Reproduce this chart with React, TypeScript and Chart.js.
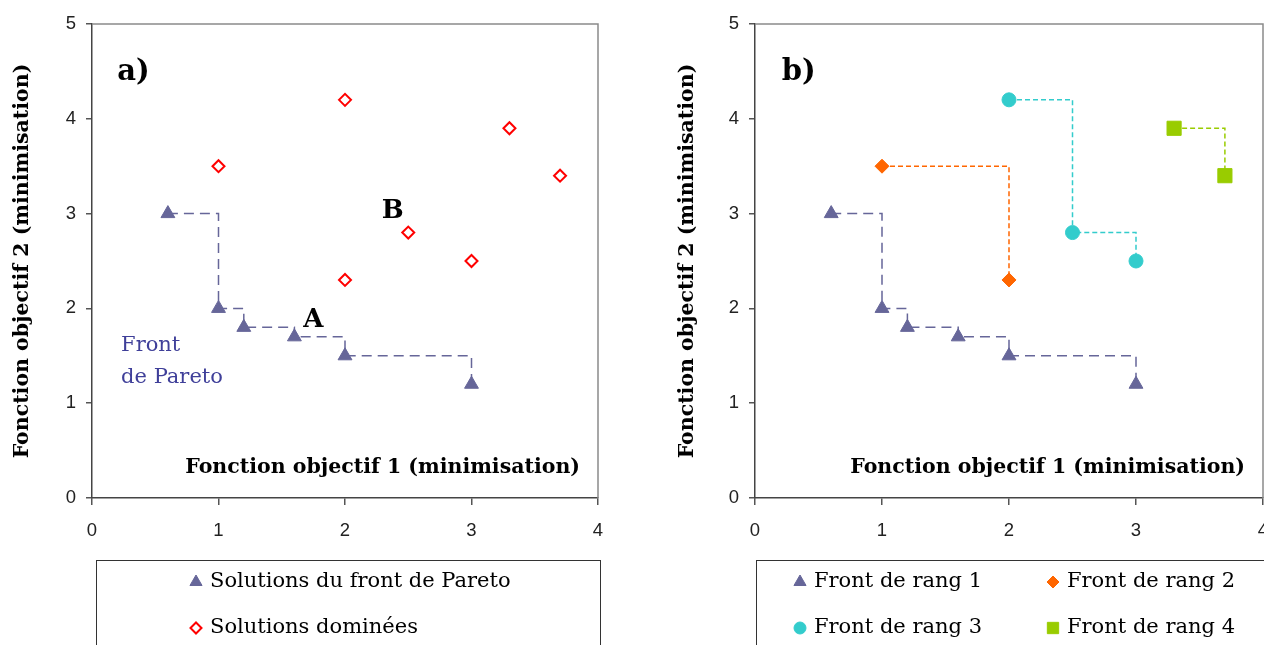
import React, { useEffect, useRef } from 'react';
import { Chart, registerables } from 'chart.js';
import { drawPoint } from 'chart.js/helpers';

Chart.register(...registerables);

// ---------- data ----------
const xTickValues = [0, 1, 2, 3, 4];
const yTickValues = [0, 1, 2, 3, 4, 5];

const paretoX = [0.6, 1, 1.2, 1.6, 2, 3];
const paretoY = [3, 2, 1.8, 1.7, 1.5, 1.2];

const dominatedX = [1, 2, 2.5, 2, 3.3, 3, 3.7];
const dominatedY = [3.5, 4.2, 2.8, 2.3, 3.9, 2.5, 3.4];

const rank2X = [1, 2];
const rank2Y = [3.5, 2.3];
const rank3X = [2, 2.5, 3];
const rank3Y = [4.2, 2.8, 2.5];
const rank4X = [3.3, 3.7];
const rank4Y = [3.9, 3.4];

const xTitleText = 'Fonction objectif 1 (minimisation)';
const yTitleText = 'Fonction objectif 2 (minimisation)';

// ---------- styles ----------
const SERIF = '"DejaVu Serif", "Liberation Serif", serif';
const SANS = '"Liberation Sans", Arial, sans-serif';
const TITLE_SIZE = 20.5;
const LEGEND_FONT = `21px ${SERIF}`;
const SLATE = '#666699';
const RED = '#ff0000';
const ORANGE = '#ff6600';
const CYAN = '#33cccc';
const GREEN = '#99cc00';

const pts = (xs: number[], ys: number[]) => xs.map((x, i) => ({ x, y: ys[i] }));

type TextItem = { text: string; x: number; y: number; font: string; color: string };
type LegendItem = { ds: number; x: number; y: number; r: number };
type DecorCfg = {
  key: string;
  texts: TextItem[];
  legendBox: { left: number; top: number; right: number; bottom: number };
  legend: LegendItem[];
};

function makeDecor(cfg: DecorCfg) {
  return {
    id: 'decor' + cfg.key,
    beforeDatasetsDraw(chart: any) {
      const { ctx, chartArea: a } = chart;
      ctx.save();
      ctx.strokeStyle = '#8a8a8a';
      ctx.lineWidth = 1.5;
      ctx.beginPath();
      ctx.moveTo(a.left, a.top);
      ctx.lineTo(a.right, a.top);
      ctx.lineTo(a.right, a.bottom);
      ctx.stroke();
      ctx.restore();
    },
    afterDraw(chart: any) {
      const { ctx, chartArea: a, scales } = chart;
      ctx.save();
      ctx.textBaseline = 'middle';
      ctx.textAlign = 'left';
      for (const t of cfg.texts) {
        ctx.font = t.font;
        ctx.fillStyle = t.color;
        ctx.fillText(t.text, scales.x.getPixelForValue(t.x), scales.y.getPixelForValue(t.y));
      }
      // x-axis title inside the plot, bottom right
      ctx.font = `bold ${TITLE_SIZE}px ${SERIF}`;
      ctx.fillStyle = '#000';
      ctx.textAlign = 'right';
      ctx.fillText(xTitleText, a.right - 18, a.bottom - 30);

      // legend box
      const b = cfg.legendBox;
      ctx.strokeStyle = '#333';
      ctx.lineWidth = 1;
      ctx.strokeRect(b.left + 0.5, b.top + 0.5, b.right - b.left, b.bottom - b.top);
      ctx.textAlign = 'left';
      ctx.font = LEGEND_FONT;
      for (const it of cfg.legend) {
        const ds = chart.data.datasets[it.ds];
        ctx.fillStyle = ds.pointBackgroundColor;
        ctx.strokeStyle = ds.pointBorderColor;
        ctx.lineWidth = ds.pointBorderWidth ?? 1;
        ctx.setLineDash([]);
        drawPoint(ctx, { pointStyle: ds.pointStyle, rotation: 0, radius: it.r, borderWidth: ds.pointBorderWidth ?? 1 }, it.x, it.y);
        ctx.fillStyle = '#000';
        ctx.fillText(ds.label, it.x + 14, it.y);
      }
      ctx.restore();
    },
  };
}

function makeScales(yWidth: number, yTitlePad: number) {
  return {
    x: {
      type: 'linear',
      min: 0,
      max: 4,
      afterBuildTicks: (s: any) => {
        s.ticks = xTickValues.map((v) => ({ value: v }));
      },
      afterFit: (s: any) => {
        s.height = 60;
      },
      grid: { drawOnChartArea: false, drawTicks: true, tickLength: 7, color: '#555', lineWidth: 1.5 },
      border: { display: true, color: '#444', width: 1.5 },
      ticks: { font: { family: SANS, size: 18.5 }, color: '#222', padding: 15, maxRotation: 0, autoSkip: false },
    },
    y: {
      type: 'linear',
      min: 0,
      max: 5,
      afterBuildTicks: (s: any) => {
        s.ticks = yTickValues.map((v) => ({ value: v }));
      },
      afterFit: (s: any) => {
        s.width = yWidth;
      },
      grid: { drawOnChartArea: false, drawTicks: true, tickLength: 6, color: '#555', lineWidth: 1.5 },
      border: { display: true, color: '#444', width: 1.5 },
      ticks: { font: { family: SANS, size: 18.5 }, color: '#222', padding: 10, autoSkip: false },
      title: {
        display: true,
        text: yTitleText,
        font: { family: SERIF, size: TITLE_SIZE, weight: 'bold' },
        color: '#000',
        padding: { top: yTitlePad, bottom: 0 },
      },
    },
  };
}

const paretoDataset = (label: string) => ({
  label,
  data: pts(paretoX, paretoY),
  showLine: true,
  stepped: 'before',
  borderDash: [10, 6],
  borderColor: SLATE,
  backgroundColor: SLATE,
  borderWidth: 1.5,
  pointStyle: 'triangle',
  pointRadius: 8,
  pointBorderWidth: 1,
  pointBackgroundColor: SLATE,
  pointBorderColor: SLATE,
});

const rankDataset = (label: string, xs: number[], ys: number[], color: string, style: string, r: number) => ({
  label,
  data: pts(xs, ys),
  showLine: true,
  stepped: 'before',
  borderDash: [5, 3],
  borderColor: color,
  backgroundColor: color,
  borderWidth: 1.5,
  pointStyle: style,
  pointRadius: r,
  pointBorderWidth: 1,
  pointBackgroundColor: color,
  pointBorderColor: color,
});

export default function App() {
  const leftRef = useRef<HTMLCanvasElement>(null);
  const rightRef = useRef<HTMLCanvasElement>(null);

  useEffect(() => {
    const boldSerif = (n: number) => `bold ${n}px ${SERIF}`;
    const left = new Chart(leftRef.current as HTMLCanvasElement, {
      type: 'scatter',
      data: {
        datasets: [
          paretoDataset('Solutions du front de Pareto'),
          {
            label: 'Solutions dominées',
            data: pts(dominatedX, dominatedY),
            showLine: false,
            borderColor: RED,
            backgroundColor: '#ffffff',
            pointStyle: 'rectRot',
            pointRadius: 6,
            pointBorderWidth: 2,
            pointBackgroundColor: '#ffffff',
            pointBorderColor: RED,
          },
        ],
      } as any,
      options: {
        responsive: false,
        animation: false,
        layout: { padding: { left: 0, top: 24, right: 42, bottom: 162 } },
        plugins: { legend: { display: false }, tooltip: { enabled: false } },
        scales: makeScales(92, 10) as any,
      },
      plugins: [
        makeDecor({
          key: 'L',
          texts: [
            { text: 'a)', x: 0.2, y: 4.49, font: boldSerif(29), color: '#000' },
            { text: 'A', x: 1.67, y: 1.88, font: boldSerif(26), color: '#000' },
            { text: 'B', x: 2.29, y: 3.02, font: boldSerif(26), color: '#000' },
            { text: 'Front', x: 0.23, y: 1.61, font: `21px ${SERIF}`, color: '#3f3f99' },
            { text: 'de Pareto', x: 0.23, y: 1.27, font: `21px ${SERIF}`, color: '#3f3f99' },
          ],
          legendBox: { left: 96, top: 560, right: 600, bottom: 760 },
          legend: [
            { ds: 0, x: 196, y: 582, r: 7 },
            { ds: 1, x: 196, y: 628, r: 5.5 },
          ],
        }),
      ],
    } as any);

    const right = new Chart(rightRef.current as HTMLCanvasElement, {
      type: 'scatter',
      data: {
        datasets: [
          paretoDataset('Front de rang 1'),
          rankDataset('Front de rang 2', rank2X, rank2Y, ORANGE, 'rectRot', 7),
          rankDataset('Front de rang 3', rank3X, rank3Y, CYAN, 'circle', 7),
          rankDataset('Front de rang 4', rank4X, rank4Y, GREEN, 'rect', 10),
        ],
      } as any,
      options: {
        responsive: false,
        animation: false,
        layout: { padding: { left: 0, top: 24, right: 49, bottom: 162 } },
        plugins: { legend: { display: false }, tooltip: { enabled: false } },
        scales: makeScales(123, 43) as any,
      },
      plugins: [
        makeDecor({
          key: 'R',
          texts: [{ text: 'b)', x: 0.21, y: 4.49, font: boldSerif(29), color: '#000' }],
          legendBox: { left: 124, top: 560, right: 700, bottom: 760 },
          legend: [
            { ds: 0, x: 168, y: 582, r: 7 },
            { ds: 1, x: 421, y: 582, r: 6 },
            { ds: 2, x: 168, y: 628, r: 6 },
            { ds: 3, x: 421, y: 628, r: 8 },
          ],
        }),
      ],
    } as any);

    return () => {
      left.destroy();
      right.destroy();
    };
  }, []);

  return (
    <div
      style={{
        position: 'absolute',
        left: 0,
        top: 0,
        width: 1264,
        height: 645,
        overflow: 'hidden',
        background: '#ffffff',
      }}
    >
      <canvas ref={leftRef} width={640} height={720} style={{ position: 'absolute', left: 0, top: 0 }} />
      <canvas ref={rightRef} width={680} height={720} style={{ position: 'absolute', left: 632, top: 0 }} />
    </div>
  );
}
